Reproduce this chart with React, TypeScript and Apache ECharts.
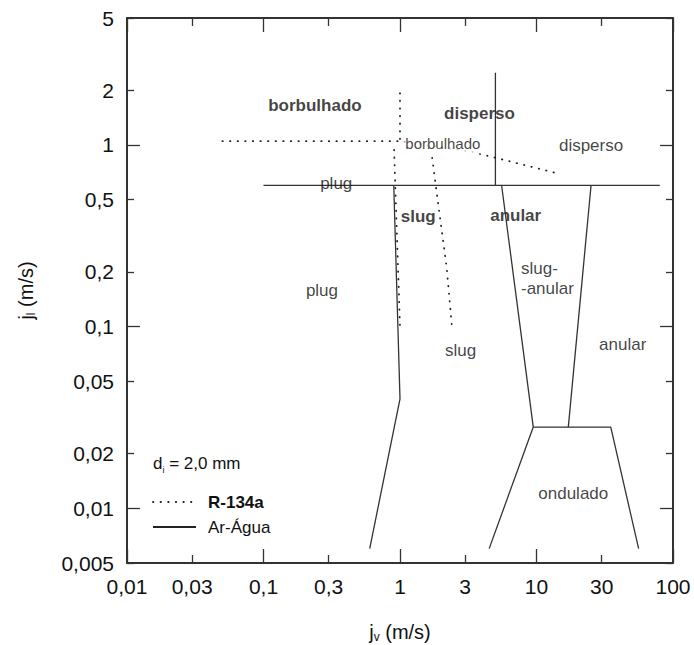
import React, { useEffect, useRef } from 'react';
import * as echarts from 'echarts';

// ---------- Axis ticks ----------
const xTickValues = [0.01, 0.03, 0.1, 0.3, 1, 3, 10, 30, 100];
const xTickLabels = ['0,01', '0,03', '0,1', '0,3', '1', '3', '10', '30', '100'];
const xMajorTicks = [0.01, 0.1, 1, 10, 100];
const xMinorTicks = [0.03, 0.3, 3, 30];
const yTickValues = [0.005, 0.01, 0.02, 0.05, 0.1, 0.2, 0.5, 1, 2, 5];
const yTickLabels = ['0,005', '0,01', '0,02', '0,05', '0,1', '0,2', '0,5', '1', '2', '5'];
const yMajorTicks = [0.01, 0.1, 1];
const yMinorTicks = [0.005, 0.02, 0.05, 0.2, 0.5, 2, 5];
const xRange = [0.01, 100];
const yRange = [0.005, 5];

// ---------- Ar-Água boundaries (solid) [jv, jl] ----------
const arAguaPlugTop = [[0.1, 0.6], [80, 0.6]];
const arAguaDispersoSplit = [[5, 0.6], [5, 2.5]];
const arAguaPlugSlug = [[0.9, 0.6], [1.0, 0.04], [0.6, 0.006]];
const arAguaSlugAnularLeft = [[5.55, 0.6], [9.47, 0.028], [4.5, 0.006]];
const arAguaSlugAnularRight = [[25.1, 0.6], [17.1, 0.028]];
const arAguaOndulado = [[9.47, 0.028], [35, 0.028], [56, 0.006]];

// ---------- R-134a boundaries (dotted) [jv, jl] ----------
const r134aBubbleTop = [[0.05, 1.05], [1.0, 1.05], [3.4, 0.915], [14, 0.7]];
const r134aVerticalTop = [[1.0, 1.93], [1.0, 1.05]];
const r134aPlugSlug = [[0.905, 0.94], [1.0, 0.1]];
const r134aSlugRight = [[1.72, 0.85], [1.88, 0.51], [2.2, 0.21], [2.4, 0.1]];

// ---------- Region labels ----------
const regionLabelText = ['borbulhado', 'disperso', 'borbulhado', 'disperso', 'plug', 'slug', 'anular', 'slug-\n-anular', 'plug', 'slug', 'anular', 'ondulado'];
const regionLabelX = [0.238, 3.82, 2.06, 25.1, 0.341, 1.36, 7.04, 7.7, 0.268, 2.78, 42.8, 18.6];
const regionLabelY = [1.646, 1.495, 1.02, 0.99, 0.615, 0.403, 0.411, 0.185, 0.159, 0.0736, 0.0798, 0.01205];

// ---------- Styling ----------
const FONT = '"Liberation Sans", Arial, Helvetica, sans-serif';
const AXIS_COLOR = '#333333';
const TEXT_COLOR = '#111111';
const boldLabelIdx = [0, 1, 5, 6];
const smallLabelIdx = [2];
const leftAlignIdx = [7];

const L = (v: number) => Math.log10(v);

const makeFormatter = (vals: number[], labels: string[]) => (v: number) => {
  const i = vals.findIndex((t) => Math.abs(L(t) - v) < 1e-6);
  return i >= 0 ? labels[i] : '';
};

function buildOption() {
  const xMin = L(xRange[0]);
  const xMax = L(xRange[1]);
  const yMin = L(yRange[0]);
  const yMax = L(yRange[1]);

  const tickStyle = { color: AXIS_COLOR, width: 1.3 };
  const axisLineOn = { show: true, onZero: false, lineStyle: { color: AXIS_COLOR, width: 2 } };
  const axisLineOff = { show: false, onZero: false };

  const xAxisBase = { type: 'value', min: xMin, max: xMax, splitLine: { show: false } };
  const yAxisBase = { type: 'value', min: yMin, max: yMax, splitLine: { show: false } };

  const nameRich = {
    m: { fontSize: 20, lineHeight: 22, fontFamily: FONT, color: TEXT_COLOR },
    s: { fontSize: 12, lineHeight: 12, verticalAlign: 'bottom', fontFamily: FONT, color: TEXT_COLOR },
  };

  const xAxes = [
    {
      ...xAxisBase,
      position: 'bottom',
      axisLine: axisLineOn,
      axisTick: { show: true, inside: true, length: 14, lineStyle: tickStyle, customValues: xMajorTicks.map(L) },
      axisLabel: {
        show: true,
        customValues: xTickValues.map(L),
        formatter: makeFormatter(xTickValues, xTickLabels),
        fontSize: 21,
        fontFamily: FONT,
        color: TEXT_COLOR,
        margin: 13,
      },
      name: '{m|j}{s|v}{m| (m/s)}',
      nameLocation: 'middle',
      nameGap: 58,
      nameTextStyle: { fontFamily: FONT, color: TEXT_COLOR, rich: nameRich },
    },
    {
      ...xAxisBase,
      position: 'bottom',
      axisLine: axisLineOff,
      axisTick: { show: true, inside: true, length: 8, lineStyle: tickStyle, customValues: xMinorTicks.map(L) },
      axisLabel: { show: false },
    },
    {
      ...xAxisBase,
      position: 'top',
      axisLine: axisLineOn,
      axisTick: { show: true, inside: true, length: 14, lineStyle: tickStyle, customValues: xMajorTicks.map(L) },
      axisLabel: { show: false },
    },
    {
      ...xAxisBase,
      position: 'top',
      axisLine: axisLineOff,
      axisTick: { show: true, inside: true, length: 8, lineStyle: tickStyle, customValues: xMinorTicks.map(L) },
      axisLabel: { show: false },
    },
  ];

  const yAxes = [
    {
      ...yAxisBase,
      position: 'left',
      axisLine: axisLineOn,
      axisTick: { show: true, inside: true, length: 13, lineStyle: tickStyle, customValues: yMajorTicks.map(L) },
      axisLabel: {
        show: true,
        customValues: yTickValues.map(L),
        formatter: makeFormatter(yTickValues, yTickLabels),
        fontSize: 21,
        fontFamily: FONT,
        color: TEXT_COLOR,
        margin: 13,
      },
      name: '{m|j}{s|l}{m| (m/s)}',
      nameLocation: 'middle',
      nameGap: 90,
      nameTextStyle: { fontFamily: FONT, color: TEXT_COLOR, rich: nameRich },
    },
    {
      ...yAxisBase,
      position: 'left',
      axisLine: axisLineOff,
      axisTick: { show: true, inside: true, length: 7, lineStyle: tickStyle, customValues: yMinorTicks.map(L) },
      axisLabel: { show: false },
    },
    {
      ...yAxisBase,
      position: 'right',
      axisLine: axisLineOn,
      axisTick: { show: true, inside: true, length: 13, lineStyle: tickStyle, customValues: yMajorTicks.map(L) },
      axisLabel: { show: false },
    },
    {
      ...yAxisBase,
      position: 'right',
      axisLine: axisLineOff,
      axisTick: { show: true, inside: true, length: 7, lineStyle: tickStyle, customValues: yMinorTicks.map(L) },
      axisLabel: { show: false },
    },
  ];

  const toLog = (pts: number[][]) => pts.map((p) => [L(p[0]), L(p[1])]);

  const solid = (data: number[][]) => ({
    type: 'line',
    name: 'Ar-Água',
    xAxisIndex: 0,
    yAxisIndex: 0,
    data: toLog(data),
    symbol: 'none',
    showSymbol: false,
    silent: true,
    lineStyle: { color: '#333', width: 1.3 },
    z: 3,
  });
  const dotted = (data: number[][]) => ({
    type: 'line',
    name: 'R-134a',
    xAxisIndex: 0,
    yAxisIndex: 0,
    data: toLog(data),
    symbol: 'none',
    showSymbol: false,
    silent: true,
    smooth: false,
    lineStyle: { color: '#222', width: 1.8, type: [0.4, 7.2], cap: 'round' },
    z: 3,
  });

  const labelData = regionLabelText.map((t, i) => {
    const bold = boldLabelIdx.includes(i);
    const small = smallLabelIdx.includes(i);
    const left = leftAlignIdx.includes(i);
    return {
      name: t,
      value: [L(regionLabelX[i]), L(regionLabelY[i])],
      label: {
        show: true,
        position: 'inside',
        formatter: t,
        fontFamily: FONT,
        fontSize: small ? 15 : 17,
        fontWeight: bold ? 'bold' : 'normal',
        color: TEXT_COLOR,
        align: left ? 'left' : 'center',
        verticalAlign: 'middle',
        lineHeight: 20,
        backgroundColor: small ? '#ffffff' : 'transparent',
        padding: small ? [0, 1] : 0,
      },
    };
  });

  return {
    animation: false,
    backgroundColor: '#ffffff',
    grid: { left: 127, right: 21, top: 18, bottom: 82, containLabel: false, outerBoundsMode: 'none' },
    xAxis: xAxes,
    yAxis: yAxes,
    series: [
      solid(arAguaPlugTop),
      solid(arAguaDispersoSplit),
      solid(arAguaPlugSlug),
      solid(arAguaSlugAnularLeft),
      solid(arAguaSlugAnularRight),
      solid(arAguaOndulado),
      dotted(r134aBubbleTop),
      dotted(r134aVerticalTop),
      dotted(r134aPlugSlug),
      dotted(r134aSlugRight),
      {
        type: 'scatter',
        name: 'regimes',
        xAxisIndex: 0,
        yAxisIndex: 0,
        symbolSize: 0,
        silent: true,
        data: labelData,
        z: 5,
      },
    ],
    graphic: [
      {
        type: 'text',
        left: 153,
        top: 455,
        style: {
          text: '{m|d}{s|i}{m| = 2,0 mm}',
          rich: {
            m: { fontSize: 17, lineHeight: 22, fontFamily: FONT, fill: TEXT_COLOR },
            s: { fontSize: 9, lineHeight: 12, verticalAlign: 'bottom', fontFamily: FONT, fill: TEXT_COLOR },
          },
        },
      },
      {
        type: 'line',
        shape: { x1: 153, y1: 502, x2: 194, y2: 502 },
        style: { stroke: '#222', lineWidth: 1.8, lineDash: [0.4, 7.2], lineCap: 'round' },
      },
      {
        type: 'text',
        x: 208,
        y: 502,
        style: {
          text: 'R-134a',
          fontSize: 17,
          fontWeight: 'bold',
          fontFamily: FONT,
          fill: TEXT_COLOR,
          verticalAlign: 'middle',
          align: 'left',
        },
      },
      {
        type: 'line',
        shape: { x1: 153, y1: 527, x2: 196, y2: 527 },
        style: { stroke: '#222', lineWidth: 1.8 },
      },
      {
        type: 'text',
        x: 208,
        y: 527,
        style: {
          text: 'Ar-Água',
          fontSize: 17,
          fontFamily: FONT,
          fill: TEXT_COLOR,
          verticalAlign: 'middle',
          align: 'left',
        },
      },
    ],
  };
}

export default function App() {
  const ref = useRef<HTMLDivElement>(null);
  useEffect(() => {
    if (!ref.current) return;
    const chart = echarts.init(ref.current, null, { renderer: 'svg' });
    chart.setOption(buildOption() as any);
    return () => chart.dispose();
  }, []);
  return (
    <div
      ref={ref}
      style={{ position: 'fixed', left: 0, top: 0, width: 694, height: 645, background: '#ffffff' }}
    />
  );
}
